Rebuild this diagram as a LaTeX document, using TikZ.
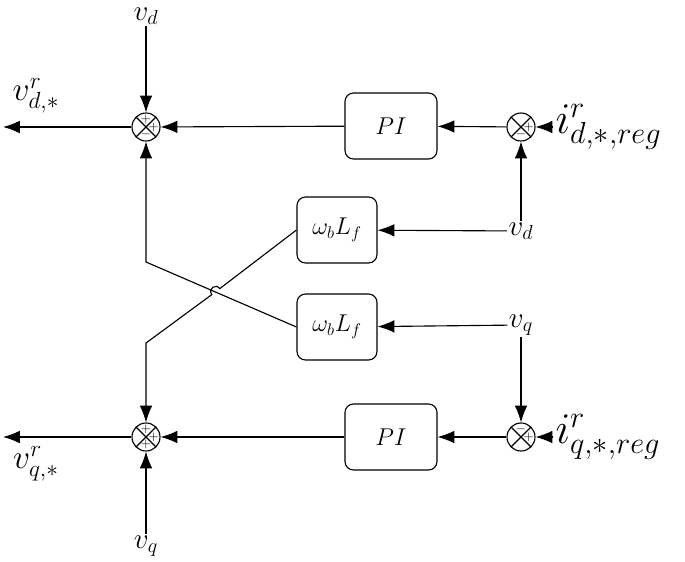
\documentclass[tikz,border=0pt]{standalone}
\usetikzlibrary{arrows.meta,positioning}
\newlength{\px}\setlength{\px}{0.025cm}
\tikzset{
  sum/.style={draw,thick,circle,minimum size=28\px,inner sep=0pt,
    path picture={\draw[thick] (path picture bounding box.north west)--(path picture bounding box.south east)
      (path picture bounding box.north east)--(path picture bounding box.south west);}},
  blk/.style={draw,thick,rounded corners=6pt,minimum width=80\px,minimum height=66\px,font=\LARGE},
  sg/.style={font=\small,inner sep=0pt},
  lbl/.style={font=\huge,inner sep=1pt},
  sig/.style={thick,-{Latex[length=12pt,width=9pt]}},
}
\begin{document}
\begin{tikzpicture}[x=0.025cm,y=-0.025cm]
\useasboundingbox (0,0) rectangle (685,561);

% summing points
\node[sum] (sd) at (146,127) {};
\node[sum] (ed) at (521,127) {};
\node[sum] (sq) at (146,437) {};
\node[sum] (eq) at (521,437) {};
\node[sg] at ([yshift=-7\px]sd.north) {$+$};
\node[sg] at ([xshift=-7\px]sd.east) {$+$};
\node[sg] at ([yshift=7\px]sd.south) {$-$};
\node[sg] at ([xshift=-7\px]ed.east) {$+$};
\node[sg] at ([yshift=7\px]ed.south) {$-$};
\node[sg] at ([yshift=-7\px]sq.north) {$+$};
\node[sg] at ([xshift=-7\px]sq.east) {$+$};
\node[sg] at ([yshift=7\px]sq.south) {$+$};
\node[sg] at ([yshift=-7\px]eq.north) {$-$};
\node[sg] at ([xshift=-7\px]eq.east) {$+$};

% blocks
\node[blk,minimum width=92\px] (pid) at (391,126) {$PI$};
\node[blk] (wd) at (337,230) {$\omega_b L_f$};
\node[blk] (wq) at (337,327) {$\omega_b L_f$};
\node[blk,minimum width=92\px] (piq) at (391,437) {$PI$};

% signals
\node[lbl] (vdt) at (146,16) {$v_d$};
\node[lbl] (vdr) at (521,231) {$v_d$};
\node[lbl] (vqr) at (521,325) {$v_q$};
\node[lbl] (vqb) at (146,546) {$v_q$};
\node[lbl,anchor=west,scale=1.5] (idr) at (553,127) {$i^r_{d,*,reg}$};
\node[lbl,anchor=west,scale=1.5] (iqr) at (553,437) {$i^r_{q,*,reg}$};
\node[lbl,scale=1.15] (vdo) at (36,96) {$v^r_{d,*}$};
\node[lbl,scale=1.15] (vqo) at (36,464) {$v^r_{q,*}$};
\coordinate (od) at (3,127);
\coordinate (oq) at (3,437);

\draw[sig] (idr.west) -- (ed);
\draw[sig] (ed) -- (pid);
\draw[sig] (pid) -- (sd);
\draw[sig] (sd) -- (od);
\draw[sig] (vdt) -- (sd);
\draw[sig] (vdr) -- (ed);
\draw[sig] (vdr) -- (wd);
\draw[sig] (vqr) -- (wq);
\draw[sig] (vqr) -- (eq);
\draw[sig] (iqr.west) -- (eq);
\draw[sig] (eq) -- (piq);
\draw[sig] (piq) -- (sq);
\draw[sig] (sq) -- (oq);
\draw[sig] (vqb) -- (sq);

% cross coupling
\draw[sig] (wq.west) -- (146,262) -- (sd.south);
\draw[sig] (wd.west) -- (219.8,288.6) .. controls (215.6,283.0) and (207.6,289.0) .. (211.8,294.6)
  -- (146,343) -- (sq.north);
\end{tikzpicture}
\end{document}
